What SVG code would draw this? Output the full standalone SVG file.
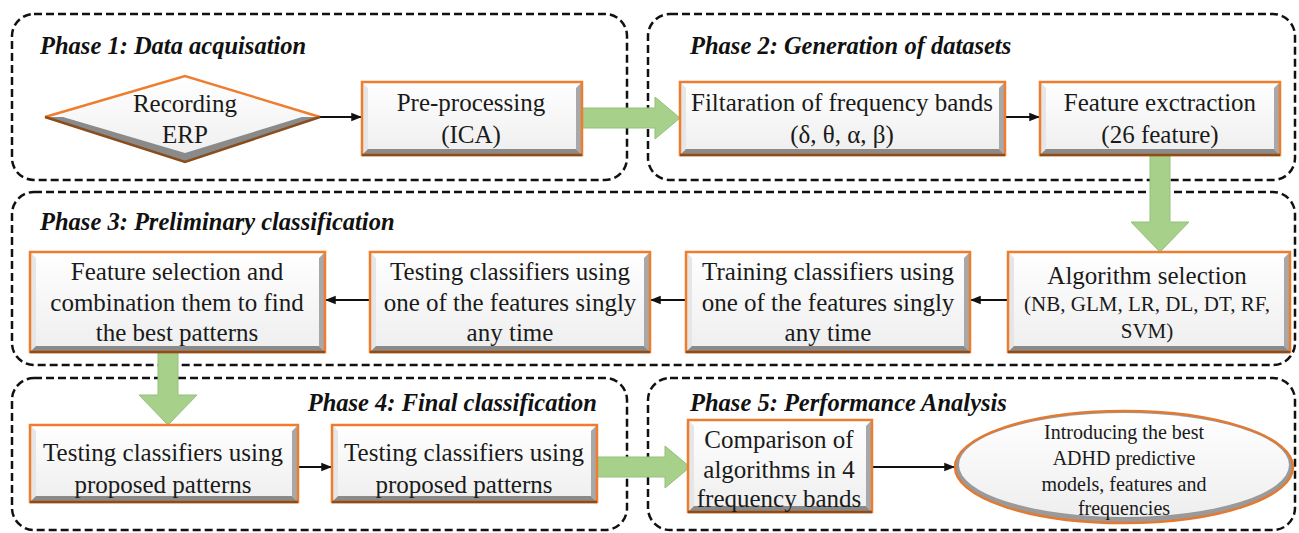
<svg xmlns="http://www.w3.org/2000/svg" width="1299" height="533" viewBox="0 0 1299 533">
<defs>
<style>
.phase{fill:none;stroke:#111;stroke-width:2.5;stroke-dasharray:8 4}
text{font-family:'Liberation Serif','Times New Roman','DejaVu Serif',serif}
.ttl{font-weight:bold;font-style:italic;font-size:24.5px;fill:#111}
.t{font-size:25px;fill:#1a1a1a;text-anchor:middle}
.ta{font-size:21px;fill:#1a1a1a;text-anchor:middle}
.ts{font-size:20px;fill:#1a1a1a;text-anchor:middle}
.face{fill:url(#fg)}
.bb{fill:#8a8a8a}
.br{fill:#a8a8a8}
.bt{fill:#ffffff}
.bl{fill:#e6e6e6}
.ol{fill:none;stroke:#ee7d2f;stroke-width:2.5}
.ob{fill:none;stroke:#8a4d1c;stroke-width:2.5}
.con{stroke:#111;stroke-width:1.8;fill:none;marker-end:url(#ah)}
.big{fill:#a7d18b;stroke:#92c178;stroke-width:1}
</style>
<linearGradient id="fg" x1="0" y1="0" x2="0" y2="1"><stop offset="0" stop-color="#ffffff"/><stop offset="1" stop-color="#eeeeee"/></linearGradient>
<marker id="ah" viewBox="0 0 10 10" refX="9" refY="5" markerWidth="6" markerHeight="6" orient="auto"><path d="M0,1 L10,5 L0,9 z" fill="#111"/></marker>
</defs>

<g id="phase1"><rect class="phase" x="12" y="14" width="615" height="166" rx="22"/><text class="ttl" x="40" y="54">Phase 1: Data acquisation</text></g>
<g id="phase2"><rect class="phase" x="648" y="14" width="647" height="166" rx="22"/><text class="ttl" x="690" y="54">Phase 2: Generation of datasets</text></g>
<g id="phase3"><rect class="phase" x="12" y="192" width="1283" height="173" rx="22"/><text class="ttl" x="40" y="230">Phase 3: Preliminary classification</text></g>
<g id="phase4"><rect class="phase" x="12" y="378" width="615" height="152" rx="22"/><text class="ttl" x="597" y="411" text-anchor="end">Phase 4: Final classification</text></g>
<g id="phase5"><rect class="phase" x="648" y="378" width="647" height="152" rx="22"/><text class="ttl" x="690" y="411">Phase 5: Performance Analysis</text></g>

<g id="connectors">
<line class="con" x1="320" y1="117" x2="361" y2="117"/>
<line class="con" x1="1005" y1="117" x2="1039" y2="117"/>
<line class="con" x1="1008" y1="300" x2="971" y2="300"/>
<line class="con" x1="686" y1="300" x2="651" y2="300"/>
<line class="con" x1="370" y1="300" x2="326" y2="300"/>
<line class="con" x1="298" y1="467" x2="331" y2="467"/>
<line class="con" x1="872" y1="467" x2="954" y2="467"/>
<path class="big" d="M582,108 H655 V97 L680,118 L655,139 V128 H582 Z"/>
<path class="big" d="M1150,155 V222 H1131 L1160,252 L1189,222 H1170 V155 Z"/>
<path class="big" d="M158,352 V395 H139 L168,425 L197,395 H178 V352 Z"/>
<path class="big" d="M597,457 H665 V446 L690,467 L665,488 V477 H597 Z"/>
</g>

<g id="n-recording">
<polygon points="45,117 185,76 320,117 185,162" fill="url(#fg)"/>
<polygon points="45,117 185,162 320,117 302,117 185,153 63,117" fill="#8a8a8a"/>
<polyline points="45,117 185,76 320,117" class="ol"/>
<polyline points="45,117 185,162 320,117" class="ob"/>
<text class="t" x="185" y="112">Recording</text><text class="t" x="185" y="143">ERP</text>
</g>

<g id="n-preproc">
<rect class="face" x="362" y="82" width="220" height="73"/>
<polygon class="bt" points="362,82 582,82 576,88 368,88"/><polygon class="bl" points="362,82 368,88 368,149 362,155"/>
<polygon class="br" points="582,82 582,155 576,149 576,88"/><polygon class="bb" points="362,155 582,155 576,149 368,149"/>
<rect class="ol" x="362" y="82" width="220" height="73"/><line class="ob" x1="362" y1="155" x2="582" y2="155"/>
<text class="t" x="471" y="111">Pre-processing</text><text class="t" x="471" y="143">(ICA)</text>
</g>

<g id="n-filter">
<rect class="face" x="680" y="82" width="325" height="73"/>
<polygon class="bt" points="680,82 1005,82 999,88 686,88"/><polygon class="bl" points="680,82 686,88 686,149 680,155"/>
<polygon class="br" points="1005,82 1005,155 999,149 999,88"/><polygon class="bb" points="680,155 1005,155 999,149 686,149"/>
<rect class="ol" x="680" y="82" width="325" height="73"/><line class="ob" x1="680" y1="155" x2="1005" y2="155"/>
<text class="t" x="842" y="111">Filtaration of frequency bands</text><text class="t" x="842" y="143">(δ, θ, α, β)</text>
</g>

<g id="n-featext">
<rect class="face" x="1040" y="82" width="240" height="73"/>
<polygon class="bt" points="1040,82 1280,82 1274,88 1046,88"/><polygon class="bl" points="1040,82 1046,88 1046,149 1040,155"/>
<polygon class="br" points="1280,82 1280,155 1274,149 1274,88"/><polygon class="bb" points="1040,155 1280,155 1274,149 1046,149"/>
<rect class="ol" x="1040" y="82" width="240" height="73"/><line class="ob" x1="1040" y1="155" x2="1280" y2="155"/>
<text class="t" x="1160" y="111">Feature exctraction</text><text class="t" x="1160" y="143">(26 feature)</text>
</g>

<g id="n-algsel">
<rect class="face" x="1008" y="252" width="282" height="100"/>
<polygon class="bt" points="1008,252 1290,252 1284,258 1014,258"/><polygon class="bl" points="1008,252 1014,258 1014,346 1008,352"/>
<polygon class="br" points="1290,252 1290,352 1284,346 1284,258"/><polygon class="bb" points="1008,352 1290,352 1284,346 1014,346"/>
<rect class="ol" x="1008" y="252" width="282" height="100"/><line class="ob" x1="1008" y1="352" x2="1290" y2="352"/>
<text class="t" x="1147" y="284">Algorithm selection</text><text class="ta" x="1147" y="311">(NB, GLM, LR, DL, DT, RF,</text><text class="ta" x="1147" y="338">SVM)</text>
</g>

<g id="n-training">
<rect class="face" x="686" y="252" width="284" height="100"/>
<polygon class="bt" points="686,252 970,252 964,258 692,258"/><polygon class="bl" points="686,252 692,258 692,346 686,352"/>
<polygon class="br" points="970,252 970,352 964,346 964,258"/><polygon class="bb" points="686,352 970,352 964,346 692,346"/>
<rect class="ol" x="686" y="252" width="284" height="100"/><line class="ob" x1="686" y1="352" x2="970" y2="352"/>
<text class="t" x="828" y="280">Training classifiers using</text><text class="t" x="828" y="311">one of the features singly</text><text class="t" x="828" y="341">any time</text>
</g>

<g id="n-testing1">
<rect class="face" x="370" y="252" width="280" height="100"/>
<polygon class="bt" points="370,252 650,252 644,258 376,258"/><polygon class="bl" points="370,252 376,258 376,346 370,352"/>
<polygon class="br" points="650,252 650,352 644,346 644,258"/><polygon class="bb" points="370,352 650,352 644,346 376,346"/>
<rect class="ol" x="370" y="252" width="280" height="100"/><line class="ob" x1="370" y1="352" x2="650" y2="352"/>
<text class="t" x="510" y="280">Testing classifiers using</text><text class="t" x="510" y="311">one of the features singly</text><text class="t" x="510" y="341">any time</text>
</g>

<g id="n-featsel">
<rect class="face" x="30" y="252" width="295" height="100"/>
<polygon class="bt" points="30,252 325,252 319,258 36,258"/><polygon class="bl" points="30,252 36,258 36,346 30,352"/>
<polygon class="br" points="325,252 325,352 319,346 319,258"/><polygon class="bb" points="30,352 325,352 319,346 36,346"/>
<rect class="ol" x="30" y="252" width="295" height="100"/><line class="ob" x1="30" y1="352" x2="325" y2="352"/>
<text class="t" x="177" y="280">Feature selection and</text><text class="t" x="177" y="311">combination them to find</text><text class="t" x="177" y="341">the best patterns</text>
</g>

<g id="n-testing2">
<rect class="face" x="30" y="425" width="268" height="77"/>
<polygon class="bt" points="30,425 298,425 292,431 36,431"/><polygon class="bl" points="30,425 36,431 36,496 30,502"/>
<polygon class="br" points="298,425 298,502 292,496 292,431"/><polygon class="bb" points="30,502 298,502 292,496 36,496"/>
<rect class="ol" x="30" y="425" width="268" height="77"/><line class="ob" x1="30" y1="502" x2="298" y2="502"/>
<text class="t" x="163" y="461">Testing classifiers using</text><text class="t" x="163" y="493">proposed patterns</text>
</g>

<g id="n-testing3">
<rect class="face" x="332" y="425" width="265" height="77"/>
<polygon class="bt" points="332,425 597,425 591,431 338,431"/><polygon class="bl" points="332,425 338,431 338,496 332,502"/>
<polygon class="br" points="597,425 597,502 591,496 591,431"/><polygon class="bb" points="332,502 597,502 591,496 338,496"/>
<rect class="ol" x="332" y="425" width="265" height="77"/><line class="ob" x1="332" y1="502" x2="597" y2="502"/>
<text class="t" x="464" y="461">Testing classifiers using</text><text class="t" x="464" y="493">proposed patterns</text>
</g>

<g id="n-comparison">
<rect class="face" x="688" y="420" width="184" height="92"/>
<polygon class="bt" points="688,420 872,420 866,426 694,426"/><polygon class="bl" points="688,420 694,426 694,506 688,512"/>
<polygon class="br" points="872,420 872,512 866,506 866,426"/><polygon class="bb" points="688,512 872,512 866,506 694,506"/>
<rect class="ol" x="688" y="420" width="184" height="92"/><line class="ob" x1="688" y1="512" x2="872" y2="512"/>
<text class="t" x="779" y="448">Comparison of</text><text class="t" x="779" y="478">algorithms in 4</text><text class="t" x="779" y="507">frequency bands</text>
</g>

<g id="n-introducing">
<ellipse cx="1124" cy="467" rx="169" ry="56" fill="#9a9a9a"/>
<ellipse cx="1124" cy="465" rx="165" ry="52" fill="url(#fg)"/>
<ellipse cx="1124" cy="467" rx="169" ry="56" fill="none" stroke="#e27a33" stroke-width="2.5"/>
<text class="ts" x="1124" y="439">Introducing the best</text><text class="ts" x="1124" y="465">ADHD predictive</text><text class="ts" x="1124" y="491">models, features and</text><text class="ts" x="1124" y="515">frequencies</text>
</g>
</svg>
